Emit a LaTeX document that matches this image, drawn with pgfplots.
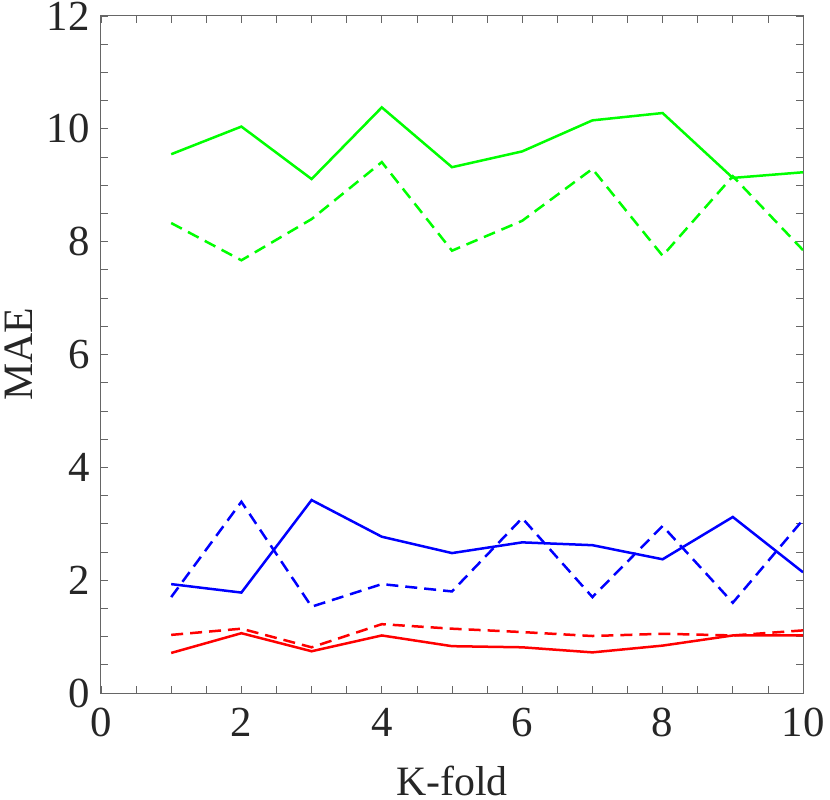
\documentclass[border=0pt]{standalone}
\usepackage{fontspec}
\setmainfont{Liberation Serif}
\usepackage{pgfplots}
\pgfplotsset{compat=1.18}
\definecolor{txt}{rgb}{0.15,0.15,0.15}
\definecolor{axc}{rgb}{0.4,0.4,0.4}
\definecolor{mgreen}{rgb}{0,1,0}
\definecolor{mblue}{rgb}{0,0,1}
\definecolor{mred}{rgb}{1,0,0}
\begin{document}
\begin{tikzpicture}[x=1bp,y=1bp]
\begin{axis}[
  name=ax,
  scale only axis,
  width=702bp, height=677bp,
  xmin=0, xmax=10, ymin=0, ymax=12,
  xtick={0,2,4,6,8,10},
  ytick={0,2,4,6,8,10,12},
  minor x tick num=3,
  minor y tick num=3,
  tick align=inside,
  major tick length=7bp,
  minor tick length=7bp,
  tick style={axc, line width=0.8bp},
  axis line style={axc, line width=1bp},
  /pgf/number format/assume math mode=true,
  ticklabel style={font=\fontsize{43}{50}\selectfont, text=txt, inner sep=0pt},
  xticklabel style={anchor=north, yshift=-15bp},
  yticklabel style={anchor=east, xshift=-11bp},
  xlabel={K-fold},
  ylabel={MAE},
  label style={font=\fontsize{42}{50}\selectfont, text=txt, inner sep=0pt},
  xlabel style={at={([yshift=-102bp]axis description cs:0.5,0)}, anchor=base},
  ylabel style={at={([xshift=-68bp]axis description cs:0,0.5)}, anchor=base},
  every axis plot/.append style={line width=2.5bp, line join=miter},
]
\addplot[mgreen] coordinates {(1,9.55) (2,10.04) (3,9.11) (4,10.38) (5,9.32) (6,9.60) (7,10.15) (8,10.28) (9,9.13) (10,9.23)};
\addplot[mgreen, dash pattern=on 12bp off 7bp] coordinates {(1,8.33) (2,7.67) (3,8.40) (4,9.41) (5,7.84) (6,8.37) (7,9.29) (8,7.75) (9,9.16) (10,7.85)};
\addplot[mblue] coordinates {(1,1.93) (2,1.78) (3,3.42) (4,2.77) (5,2.48) (6,2.67) (7,2.62) (8,2.37) (9,3.12) (10,2.14)};
\addplot[mblue, dash pattern=on 12bp off 7bp] coordinates {(1,1.70) (2,3.39) (3,1.53) (4,1.93) (5,1.80) (6,3.10) (7,1.70) (8,2.96) (9,1.60) (10,3.07)};
\addplot[mred, dash pattern=on 12bp off 7bp] coordinates {(1,1.03) (2,1.14) (3,0.81) (4,1.22) (5,1.14) (6,1.08) (7,1.01) (8,1.05) (9,1.02) (10,1.11)};
\addplot[mred] coordinates {(1,0.71) (2,1.06) (3,0.74) (4,1.02) (5,0.83) (6,0.81) (7,0.72) (8,0.84) (9,1.02) (10,1.02)};
\end{axis}
\pgfresetboundingbox
\path[use as bounding box] ([xshift=-101bp,yshift=-107bp]ax.south west) rectangle ([xshift=27bp,yshift=16bp]ax.north east);
\end{tikzpicture}
\end{document}
